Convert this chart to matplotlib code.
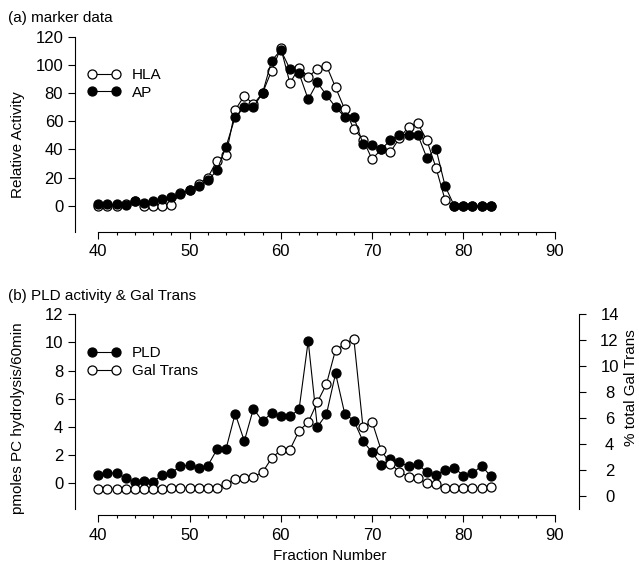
import numpy as np
import matplotlib
matplotlib.use("Agg")
import matplotlib.pyplot as plt
from matplotlib.ticker import FixedLocator

plt.rcParams["font.family"] = ["Liberation Sans", "DejaVu Sans"]

# fraction numbers shared by both panels
fractions = np.arange(40, 84)

# (a) marker data
hla = [0, 0, 0, 1, 3, 0, 0, 0, 0.5, 9,
       11, 15.5, 20, 32, 36, 68, 78, 72, 80, 96,
       112, 87, 98, 91.5, 97, 99.5, 84, 68.5, 54.5, 47,
       33, 40, 38, 48, 56, 58.5, 46.5, 27, 4, 0,
       0, 0, 0, 0]
ap = [1, 1, 1, 0.5, 3, 2, 3.5, 5, 6, 8,
      11, 14, 18, 25, 42, 63, 70, 70, 80, 103,
      110.5, 97, 94, 75.5, 87.5, 78.5, 70, 63, 63, 44,
      43, 40, 46.5, 50.5, 50.5, 50.5, 34, 40.5, 14, 0,
      0, 0, 0, 0]

# (b) PLD activity (left axis) and Gal Trans (right axis)
pld = [0.6, 0.7, 0.75, 0.35, 0.1, 0.15, 0.1, 0.6, 0.75, 1.2,
       1.3, 1.1, 1.25, 2.4, 2.45, 4.95, 3.0, 5.3, 4.4, 5.0,
       4.8, 4.75, 5.25, 10.1, 4.0, 4.9, 7.8, 4.95, 4.45, 3.0,
       2.2, 1.3, 1.7, 1.5, 1.2, 1.35, 0.8, 0.6, 0.95, 1.1,
       0.55, 0.7, 1.25, 0.5]
gal_trans = [0.5, 0.5, 0.5, 0.5, 0.5, 0.5, 0.5, 0.5, 0.6, 0.6,
             0.6, 0.6, 0.6, 0.6, 0.9, 1.3, 1.4, 1.45, 1.8, 2.9,
             3.5, 3.55, 5.0, 5.65, 7.2, 8.6, 11.25, 11.65, 12.1, 5.3,
             5.7, 3.5, 2.45, 1.85, 1.45, 1.35, 0.95, 0.9, 0.6, 0.6,
             0.6, 0.6, 0.6, 0.7]

W, H = 639, 570
XLIM = (37.447, 92.674)
FS = 11
TICK_FS = 12

open_style = dict(marker="o", markersize=6.5, markerfacecolor="white",
                  markeredgecolor="black", markeredgewidth=0.9,
                  color="black", linewidth=0.8)
fill_style = dict(marker="o", markersize=6.5, markerfacecolor="black",
                  markeredgecolor="black", markeredgewidth=0.9,
                  color="black", linewidth=0.8)
legend_opts = dict(loc="upper left", frameon=False, numpoints=2, handlelength=2.17,
                   handletextpad=0.75, borderpad=0, borderaxespad=0,
                   labelspacing=0.25, fontsize=FS)


def style_x(ax):
    ax.set_xlim(*XLIM)
    ax.spines["bottom"].set_bounds(40, 90)
    ax.set_xticks(np.arange(40, 91, 10))
    ax.xaxis.set_minor_locator(FixedLocator([v for v in range(42, 90, 2) if v % 10]))
    ax.tick_params(axis="x", which="major", direction="out", length=5, width=0.8,
                   labelsize=TICK_FS, pad=4)
    ax.tick_params(axis="x", which="minor", direction="out", length=2.5, width=0.8)


def px_axes(left, top, right, bottom):
    return fig.add_axes([left / W, 1 - bottom / H, (right - left) / W, (bottom - top) / H])


fig = plt.figure(figsize=(W / 100, H / 100), dpi=100)

# ---- panel (a)
ax1 = px_axes(75, 36.7, 579, 231.7)
ax1.plot(fractions, hla, label="HLA", zorder=3, **open_style)
ax1.plot(fractions, ap, label="AP", zorder=4, **fill_style)
for s in ("top", "right"):
    ax1.spines[s].set_visible(False)
for s in ("left", "bottom"):
    ax1.spines[s].set_linewidth(0.8)
style_x(ax1)
ax1.set_ylim(-18.46, 120)
ax1.set_yticks(np.arange(0, 121, 20))
ax1.tick_params(axis="y", direction="out", length=5, width=0.8, labelsize=TICK_FS)
ax1.set_ylabel("Relative Activity", fontsize=FS)
ax1.yaxis.set_label_coords(-0.099, 0.445)
ax1.legend(bbox_to_anchor=(0.024, 0.84), **legend_opts)

# ---- panel (b)
ax2 = px_axes(75, 314, 579, 515)
ax2.plot(fractions, pld, label="PLD", **fill_style)
for s in ("top", "right"):
    ax2.spines[s].set_visible(False)
for s in ("left", "bottom"):
    ax2.spines[s].set_linewidth(0.8)
style_x(ax2)
ax2.set_ylim(-2.251, 12.02)
ax2.spines["left"].set_bounds(-1.84, 12)
ax2.set_yticks(np.arange(0, 13, 2))
ax2.tick_params(axis="y", direction="out", length=5, width=0.8, labelsize=TICK_FS)
ax2.set_ylabel("pmoles PC hydrolysis/60min", fontsize=FS)
ax2.yaxis.set_label_coords(-0.099, 0.483)
ax2.set_xlabel("Fraction Number", fontsize=FS)
ax2.xaxis.set_label_coords(0.506, -0.17)

ax2r = ax2.twinx()
ax2r.plot(fractions, gal_trans, label="Gal Trans", **open_style)
for s in ("top", "left", "bottom"):
    ax2r.spines[s].set_visible(False)
ax2r.spines["right"].set_linewidth(0.8)
ax2r.set_ylim(-1.487, 14)
ax2r.spines["right"].set_bounds(-1.02, 14)
ax2r.set_yticks(np.arange(0, 15, 2))
ax2r.set_yticklabels([str(v) for v in range(0, 15, 2)], ha="center")
ax2r.tick_params(axis="y", direction="out", length=5, width=0.8, labelsize=TICK_FS, pad=17)
ax2r.set_ylabel("% total Gal Trans", fontsize=FS, rotation=90)
ax2r.yaxis.set_label_coords(1.09, 0.632)

h1, l1 = ax2.get_legend_handles_labels()
h2, l2 = ax2r.get_legend_handles_labels()
ax2r.legend(h1 + h2, l1 + l2, bbox_to_anchor=(0.024, 0.84), **legend_opts)

fig.text(8 / W, 1 - 18 / H, "(a) marker data", fontsize=FS, va="center", ha="left")
fig.text(8 / W, 1 - 296 / H, "(b) PLD activity & Gal Trans", fontsize=FS, va="center", ha="left")

fig.savefig("out.png", dpi=100)
